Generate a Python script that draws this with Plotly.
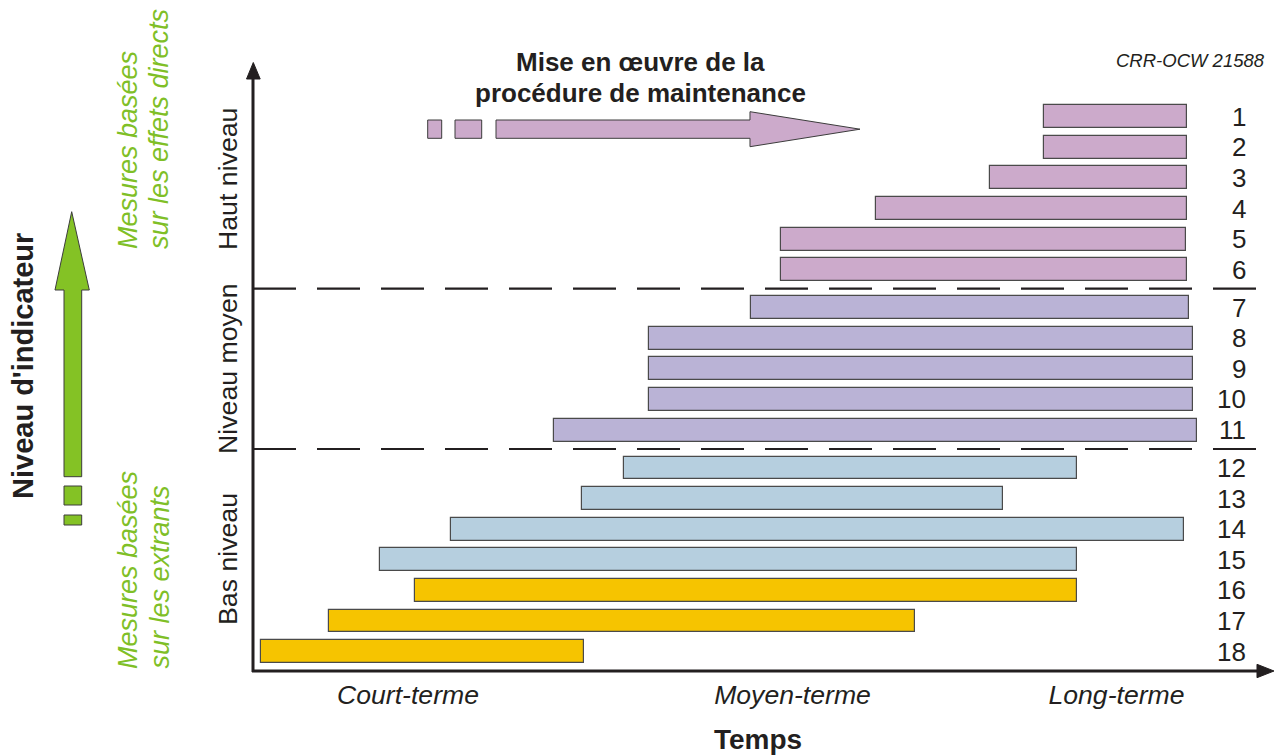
import plotly.graph_objects as go

# ---------------- data ----------------
row_labels = [str(i) for i in range(1, 19)]
bar_start = [79.1, 79.1, 73.7, 62.3, 52.8, 52.8, 49.8, 39.6, 39.6, 39.6, 30.1,
             37.1, 32.9, 19.8, 12.7, 16.2, 7.6, 0.8]
bar_end = [93.4, 93.4, 93.4, 93.4, 93.3, 93.4, 93.6, 94.0, 94.0, 94.0, 94.4,
           82.4, 75.0, 93.1, 82.4, 82.4, 66.2, 33.1]
level_index = [0] * 6 + [1] * 5 + [2] * 7
family = ["haut"] * 6 + ["moyen"] * 5 + ["bas"] * 4 + ["extrants"] * 3
level_names = ["Haut niveau", "Niveau moyen", "Bas niveau"]
time_ticks = [15.5, 53.95, 86.35]
time_labels = ["Court-terme", "Moyen-terme", "Long-terme"]

# ---------------- style ----------------
FONT = "Liberation Sans, Arial, sans-serif"
INK = "#231f20"
GREEN = "#7fbf27"
family_colors = {"haut": "#ccaacb", "moyen": "#bab3d6", "bas": "#b6cfdf", "extrants": "#f6c400"}
OUTLINE = "#4a4a4a"

W, H = 1285, 756
L, R, T, B = 253, 1273, 63, 671  # plot area in pixels
GAP = 0.24  # extra spacing between indicator levels (row units)


def px(x):
    return (x - L) / (R - L)


def py(y):
    return (B - y) / (B - T)


row_pos = [i + 1 + GAP * g for i, g in enumerate(level_index)]
y_top = 1 + (T - 116.7) / 30.6
y_bot = 1 + (B - 116.7) / 30.6

fig = go.Figure()
fig.add_trace(go.Bar(
    orientation="h",
    y=row_pos,
    x=[e - s for s, e in zip(bar_start, bar_end)],
    base=bar_start,
    width=0.75,
    marker=dict(color=[family_colors[f] for f in family],
                line=dict(color=OUTLINE, width=1.2)),
    hoverinfo="skip",
    showlegend=False,
))

shapes = []
# dashed separators between levels
for k in range(1, len(row_pos)):
    if level_index[k] != level_index[k - 1]:
        ysep = (row_pos[k] + row_pos[k - 1]) / 2
        shapes.append(dict(type="line", xref="x", yref="y", x0=0, x1=100.3, y0=ysep, y1=ysep,
                           line=dict(color=INK, width=2.2, dash="43px,21px"), layer="above"))

# axes with arrowheads
shapes.append(dict(type="line", xref="paper", yref="paper", x0=px(253), x1=px(253), y0=py(672), y1=py(78),
                   line=dict(color=INK, width=3)))
shapes.append(dict(type="line", xref="paper", yref="paper", x0=px(252), x1=px(1258), y0=py(671), y1=py(671),
                   line=dict(color=INK, width=3)))


def path(points):
    return "M " + " L ".join(f"{px(a):.5f},{py(b):.5f}" for a, b in points) + " Z"


shapes.append(dict(type="path", xref="paper", yref="paper",
                   path=path([(246.5, 79), (253.3, 62.5), (260.2, 79)]),
                   fillcolor=INK, line=dict(color=INK, width=1)))
shapes.append(dict(type="path", xref="paper", yref="paper",
                   path=path([(1257, 664.3), (1274, 671), (1257, 677.7)]),
                   fillcolor=INK, line=dict(color=INK, width=1)))

# green indicator arrow
shapes.append(dict(type="path", xref="paper", yref="paper",
                   path=path([(64, 476.7), (64, 290), (55, 290), (71.7, 211.7), (89.3, 290),
                              (81.7, 290), (81.7, 476.7)]),
                   fillcolor="#84c225", line=dict(color="#3c3c3c", width=1)))
for y0, y1 in [(486, 505), (515, 525)]:
    shapes.append(dict(type="rect", xref="paper", yref="paper", x0=px(64), x1=px(81.7),
                       y0=py(y1), y1=py(y0), fillcolor="#84c225", line=dict(color="#3c3c3c", width=1)))

# pink maintenance arrow
for x0, x1 in [(427.7, 441.7), (455, 481.7)]:
    shapes.append(dict(type="rect", xref="paper", yref="paper", x0=px(x0), x1=px(x1),
                       y0=py(138.3), y1=py(120), fillcolor="#ccaacb", line=dict(color="#3c3c3c", width=1)))
shapes.append(dict(type="path", xref="paper", yref="paper",
                   path=path([(496, 120), (750, 120), (750, 111.7), (860, 129.2), (750, 146.7),
                              (750, 138.3), (496, 138.3)]),
                   fillcolor="#ccaacb", line=dict(color="#3c3c3c", width=1)))

ann = []
# row numbers
for lab, y in zip(row_labels, row_pos):
    ann.append(dict(x=px(1248), xref="paper", y=y, yref="y", text=lab, showarrow=False,
                    xanchor="right", yanchor="middle", font=dict(size=26, color=INK, family=FONT)))

# level names
level_centres = [179, 369, 559]
for name, yc in zip(level_names, level_centres):
    ann.append(dict(x=px(228), y=py(yc), xref="paper", yref="paper", text=name, textangle=-90,
                    showarrow=False, xanchor="center", yanchor="middle",
                    font=dict(size=26.7, color=INK, family=FONT)))

# green side texts
for txt, xc, ybase in [("Mesures basées", 128, 251), ("sur les effets directs", 159, 251),
                       ("Mesures basées", 128, 671), ("sur les extrants", 159, 671)]:
    ann.append(dict(x=px(xc), y=py(ybase), xref="paper", yref="paper", text=txt, textangle=-90,
                    showarrow=False, xanchor="center", yanchor="bottom",
                    font=dict(size=27, color=GREEN, family=FONT, style="italic")))

ann.append(dict(x=px(23), y=py(366), xref="paper", yref="paper", text="<b>Niveau d'indicateur</b>",
                textangle=-90, showarrow=False, xanchor="center", yanchor="middle",
                font=dict(size=29, color=INK, family=FONT)))

ann.append(dict(x=px(640), y=py(62), xref="paper", yref="paper", text="<b>Mise en œuvre de la</b>",
                showarrow=False, xanchor="center", yanchor="middle",
                font=dict(size=26, color=INK, family=FONT)))
ann.append(dict(x=px(640), y=py(93), xref="paper", yref="paper", text="<b>procédure de maintenance</b>",
                showarrow=False, xanchor="center", yanchor="middle",
                font=dict(size=26, color=INK, family=FONT)))

ann.append(dict(x=px(1267), y=py(60), xref="paper", yref="paper", text="CRR-OCW 21588",
                showarrow=False, xanchor="right", yanchor="middle",
                font=dict(size=18.5, color=INK, family=FONT, style="italic")))

ann.append(dict(x=px(758), y=py(739), xref="paper", yref="paper", text="<b>Temps</b>",
                showarrow=False, xanchor="center", yanchor="middle",
                font=dict(size=28, color=INK, family=FONT)))

fig.update_layout(
    width=W, height=H, autosize=False,
    margin=dict(l=L, r=W - R, t=T, b=H - B, pad=0),
    paper_bgcolor="white", plot_bgcolor="white",
    font=dict(family=FONT, color=INK),
    xaxis=dict(range=[0, 102], showgrid=False, zeroline=False, showline=False,
               tickvals=time_ticks, ticktext=time_labels, ticks="", ticklabelstandoff=5,
               tickfont=dict(size=26.6, color=INK, family=FONT, style="italic"),
               fixedrange=True),
    yaxis=dict(range=[y_bot, y_top], showgrid=False, zeroline=False, showline=False,
               showticklabels=False, ticks="", fixedrange=True),
    shapes=shapes,
    annotations=ann,
    bargap=0,
)

fig.write_html("out.html", config={"displayModeBar": False},
               post_script="document.body.style.margin='0';document.body.style.overflow='hidden';")
